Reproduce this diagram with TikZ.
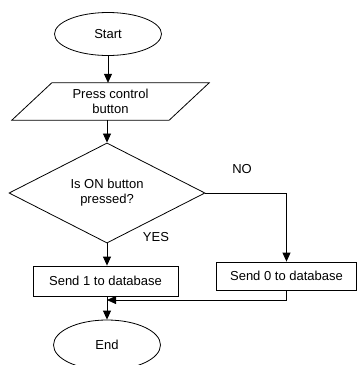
\documentclass[tikz,border=0pt]{standalone}
\usepackage{fontspec}
\setmainfont{Liberation Sans}
\usetikzlibrary{shapes.geometric,arrows.meta}
\begin{document}
\begin{tikzpicture}[x=1pt,y=-1pt,
  every node/.style={font=\fontsize{13}{15}\selectfont, inner sep=0pt},
  terminal/.style={draw, ellipse, minimum width=107pt, minimum height=43pt, line width=0.8pt},
  iobox/.style={minimum width=157pt, minimum height=37pt, align=center},
  decision/.style={draw, diamond, minimum width=196pt, minimum height=100pt, align=center, line width=0.8pt},
  procbox/.style={draw, rectangle, line width=0.8pt},
  flow/.style={line width=0.8pt, -{Triangle[length=9pt,width=8pt]}},
  lbl/.style={}]
\useasboundingbox (0,0) rectangle (357,365);

% shapes
\node[terminal] (start) at (108,34) {Start};
\node[iobox] (press) at (110.5,101.5) {Press control\\button};
\draw[line width=0.8pt] ([xshift=20pt]press.north west) -- ([xshift=20pt]press.north east)
  -- ([xshift=-20pt]press.south east) -- ([xshift=-20pt]press.south west) -- cycle;
\node[decision] (dec) at (107,193) {Is ON button\\pressed?};
\node[procbox, minimum width=145pt, minimum height=30pt] (send1) at (105.5,281) {Send 1 to database};
\node[procbox, minimum width=140pt, minimum height=28pt] (send0) at (286.5,276) {Send 0 to database};
\node[terminal, minimum height=50pt] (end) at (107,345) {End};

% labels
\node[lbl] (no) at (242,169) {NO};
\node[lbl] (yes) at (156,237) {YES};

% connectors
\coordinate (join) at (107,300);
\draw[flow] (start.south) -- (start.south |- press.north);
\draw[flow] (press.south -| dec.north) -- (dec.north);
\draw[flow] (dec.south) -- (dec.south |- send1.north);
\draw[flow] (dec.east) -| (send0.north);
\draw[flow] (send0.south) |- (join);
\draw[flow] (send1.south -| end.north) -- (end.north);
\end{tikzpicture}
\end{document}
